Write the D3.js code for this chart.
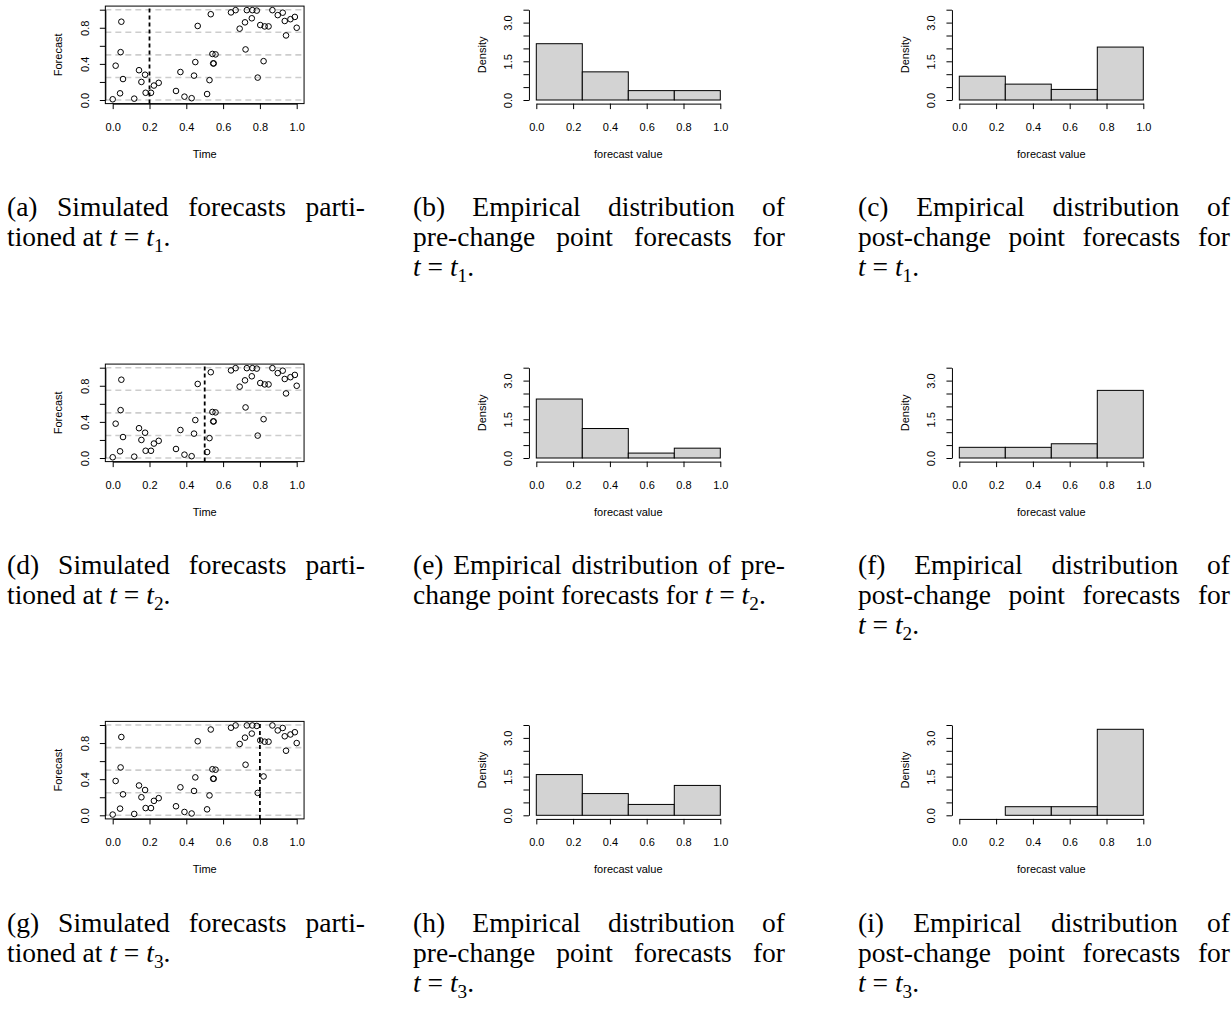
<!DOCTYPE html>
<html>
<head>
<meta charset="utf-8">
<script src="https://cdn.jsdelivr.net/npm/d3@7"></script>
<style>
  body { margin: 0; background: #fff; }
</style>
</head>
<body>
<div id="fig"></div>
<script>
// simulated forecasts, sorted by time
var times = [0.000, 0.016, 0.040, 0.043, 0.047, 0.056, 0.117, 0.143, 0.156, 0.176,
             0.179, 0.208, 0.224, 0.250, 0.344, 0.368, 0.390, 0.429, 0.442, 0.449,
             0.462, 0.513, 0.526, 0.533, 0.542, 0.546, 0.549, 0.559, 0.643, 0.668,
             0.690, 0.719, 0.722, 0.729, 0.756, 0.759, 0.783, 0.788, 0.802, 0.820,
             0.826, 0.847, 0.868, 0.897, 0.924, 0.935, 0.942, 0.966, 0.990, 1.000];
var forecasts = [0.008, 0.380, 0.074, 0.530, 0.867, 0.232, 0.015, 0.330, 0.200, 0.280,
                 0.080, 0.080, 0.160, 0.190, 0.100, 0.310, 0.037, 0.020, 0.270, 0.420,
                 0.820, 0.066, 0.220, 0.950, 0.510, 0.405, 0.405, 0.505, 0.970, 0.995,
                 0.790, 0.860, 0.560, 0.995, 0.905, 0.995, 0.990, 0.248, 0.830, 0.430,
                 0.815, 0.815, 0.995, 0.940, 0.967, 0.875, 0.715, 0.895, 0.920, 0.800];

var changePoints = [0.2, 0.5, 0.8];
var changeSubs = ["1", "2", "3"];
var binEdges = [0, 0.25, 0.5, 0.75, 1];
var gridLevels = [0, 0.25, 0.5, 0.75, 1];

var xTicks = [0, 0.2, 0.4, 0.6, 0.8, 1];
var xTickLabels = ["0.0", "0.2", "0.4", "0.6", "0.8", "1.0"];
var forecastTicks = [0, 0.2, 0.4, 0.6, 0.8, 1];
var forecastTickLabels = ["0.0", "", "0.4", "", "0.8", ""];
var densityTicks = [0, 0.5, 1, 1.5, 2, 2.5, 3, 3.5];
var densityTickLabels = ["0.0", "", "", "1.5", "", "", "3.0", ""];

var letters = [["a", "b", "c"], ["d", "e", "f"], ["g", "h", "i"]];
// caption lines, {m} is the t = t_k bit; last line of each is not justified
var scatterCaption = ["Simulated forecasts parti-", "tioned at {m}."];
var preCaption = ["Empirical distribution of", "pre-change point forecasts for", "{m}."];
var preCaptionRow2 = ["Empirical distribution of pre-", "change point forecasts for {m}."];
var postCaption = ["Empirical distribution of", "post-change point forecasts for", "{m}."];

var width = 1231, height = 1014;
var sans = "'Liberation Sans', Arial, sans-serif";
var serif = "'Liberation Serif', 'Times New Roman', serif";

var colX0 = [112.7, 536.3, 959.3];
var rowY0 = [100, 458, 815.3];
var plotW = 184, plotH = 90.3;
var capLeft = [7, 413, 858], capRight = [365, 785, 1230];
var capBase = [216, 574, 932];
var capSize = 27.5, capLead = 30;

var svg = d3.select("#fig").append("svg")
    .attr("width", width)
    .attr("height", height);

var points = times.map(function (t, i) { return {t: t, f: forecasts[i]}; });

function styleAxis(ax) {
    ax.attr("font-size", 11).attr("font-family", sans);
    ax.selectAll("line").attr("stroke", "#000");
    ax.select(".domain").attr("stroke", "#000");
}

function rotateYLabels(ax) {
    ax.selectAll(".tick text")
        .attr("transform", "rotate(-90)")
        .attr("text-anchor", "middle")
        .attr("x", 0)
        .attr("y", -16.5)
        .attr("dy", null);
}

function drawScatter(r, cp) {
    var x0 = colX0[0], yb = rowY0[r];
    var x = d3.scaleLinear().domain([0, 1]).range([x0, x0 + plotW]);
    var y = d3.scaleLinear().domain([0, 1]).range([yb, yb - plotH]);
    var g = svg.append("g");

    g.selectAll(".grid")
        .data(gridLevels)
        .enter().append("line")
        .attr("x1", x(-0.04)).attr("x2", x(1.04))
        .attr("y1", function (d) { return y(d); })
        .attr("y2", function (d) { return y(d); })
        .attr("stroke", "#cdcdcd")
        .attr("stroke-width", 1.6)
        .attr("stroke-dasharray", "6,4");

    g.selectAll("circle")
        .data(points)
        .enter().append("circle")
        .attr("cx", function (d) { return x(d.t); })
        .attr("cy", function (d) { return y(d.f); })
        .attr("r", 2.8)
        .attr("fill", "none")
        .attr("stroke", "#000")
        .attr("stroke-width", 1);

    g.append("line")
        .attr("x1", x(cp)).attr("x2", x(cp))
        .attr("y1", y(-0.04)).attr("y2", y(1.04))
        .attr("stroke", "#000")
        .attr("stroke-width", 1.8)
        .attr("stroke-dasharray", "4,3");

    g.append("rect")
        .attr("x", x(-0.04)).attr("y", y(1.04))
        .attr("width", x(1.04) - x(-0.04))
        .attr("height", y(-0.04) - y(1.04))
        .attr("fill", "none")
        .attr("stroke", "#000");

    var ax = g.append("g")
        .attr("transform", "translate(0," + y(-0.04) + ")")
        .call(d3.axisBottom(x).tickValues(xTicks)
            .tickFormat(function (d, i) { return xTickLabels[i]; })
            .tickSize(5.5).tickSizeOuter(0).tickPadding(14));
    styleAxis(ax);

    var ay = g.append("g")
        .attr("transform", "translate(" + x(-0.04) + ",0)")
        .call(d3.axisLeft(y).tickValues(forecastTicks)
            .tickFormat(function (d, i) { return forecastTickLabels[i]; })
            .tickSize(5.5).tickSizeOuter(0));
    styleAxis(ay);
    rotateYLabels(ay);

    g.append("text")
        .attr("x", x(0.5)).attr("y", yb + 58)
        .attr("text-anchor", "middle")
        .attr("font-family", sans).attr("font-size", 11)
        .text("Time");
    g.append("text")
        .attr("transform", "translate(" + (x(-0.04) - 43) + "," + ((y(-0.04) + y(1.04)) / 2) + ") rotate(-90)")
        .attr("text-anchor", "middle")
        .attr("font-family", sans).attr("font-size", 11)
        .text("Forecast");
}

var bin = d3.bin().domain([0, 1]).thresholds(binEdges.slice(1, -1));

function drawHist(r, c, values) {
    var x0 = colX0[c], yb = rowY0[r];
    var x = d3.scaleLinear().domain([0, 1]).range([x0, x0 + plotW]);
    var y = d3.scaleLinear().domain([0, 3.5]).range([yb, yb - plotH]);
    var n = values.length;
    var bins = bin(values);
    var g = svg.append("g");

    g.selectAll("rect")
        .data(bins)
        .enter().append("rect")
        .attr("x", function (d) { return x(d.x0); })
        .attr("width", function (d) { return x(d.x1) - x(d.x0); })
        .attr("y", function (d) { return y(d.length / (n * (d.x1 - d.x0))); })
        .attr("height", function (d) { return y(0) - y(d.length / (n * (d.x1 - d.x0))); })
        .attr("fill", "#d3d3d3")
        .attr("stroke", "#000")
        .attr("stroke-width", 1);

    var ax = g.append("g")
        .attr("transform", "translate(0," + (yb + 0.04 * plotH) + ")")
        .call(d3.axisBottom(x).tickValues(xTicks)
            .tickFormat(function (d, i) { return xTickLabels[i]; })
            .tickSize(5.5).tickSizeOuter(0).tickPadding(14));
    styleAxis(ax);

    var ay = g.append("g")
        .attr("transform", "translate(" + x(-0.04) + ",0)")
        .call(d3.axisLeft(y).tickValues(densityTicks)
            .tickFormat(function (d, i) { return densityTickLabels[i]; })
            .tickSize(5.5).tickSizeOuter(0));
    styleAxis(ay);
    rotateYLabels(ay);

    g.append("text")
        .attr("x", x(0.5)).attr("y", yb + 58)
        .attr("text-anchor", "middle")
        .attr("font-family", sans).attr("font-size", 11)
        .text("forecast value");
    g.append("text")
        .attr("transform", "translate(" + (x(-0.04) - 43) + "," + (yb - plotH / 2) + ") rotate(-90)")
        .attr("text-anchor", "middle")
        .attr("font-family", sans).attr("font-size", 11)
        .text("Density");
}

// one caption line; justified lines spread their words to the column width
function captionLine(r, c, text, lineNo, justify, sub) {
    var left = capLeft[c], right = capRight[c];
    var t = svg.append("text")
        .attr("y", capBase[r] + lineNo * capLead)
        .attr("font-family", serif)
        .attr("font-size", capSize)
        .attr("fill", "#000");

    if (text.indexOf("{m}") >= 0) {
        var parts = text.split("{m}");
        t.attr("x", left);
        if (parts[0]) t.append("tspan").text(parts[0]);
        t.append("tspan").attr("font-style", "italic").text("t");
        t.append("tspan").text(" = ");
        t.append("tspan").attr("font-style", "italic").text("t");
        t.append("tspan").attr("font-size", capSize * 0.7).attr("dy", capSize * 0.22).text(sub);
        t.append("tspan").attr("dy", -capSize * 0.22).text(parts[1]);
        return;
    }

    var words = text.split(" ");
    var spans = words.map(function (w) { return t.append("tspan").text(w); });
    var widths = spans.map(function (s) { return s.node().getComputedTextLength(); });
    var total = d3.sum(widths);
    var gap = justify ? (right - left - total) / (words.length - 1) : capSize * 0.25;
    var pos = left;
    spans.forEach(function (s, i) {
        s.attr("x", pos);
        pos += widths[i] + gap;
    });
}

function caption(r, c, lines) {
    lines.forEach(function (line, i) {
        var txt = i === 0 ? "(" + letters[r][c] + ") " + line : line;
        captionLine(r, c, txt, i, i < lines.length - 1, changeSubs[r]);
    });
}

changePoints.forEach(function (cp, r) {
    var pre = points.filter(function (d) { return d.t < cp; }).map(function (d) { return d.f; });
    var post = points.filter(function (d) { return d.t > cp; }).map(function (d) { return d.f; });

    drawScatter(r, cp);
    drawHist(r, 1, pre);
    drawHist(r, 2, post);

    caption(r, 0, scatterCaption);
    caption(r, 1, r === 1 ? preCaptionRow2 : preCaption);
    caption(r, 2, postCaption);
});
</script>
</body>
</html>
